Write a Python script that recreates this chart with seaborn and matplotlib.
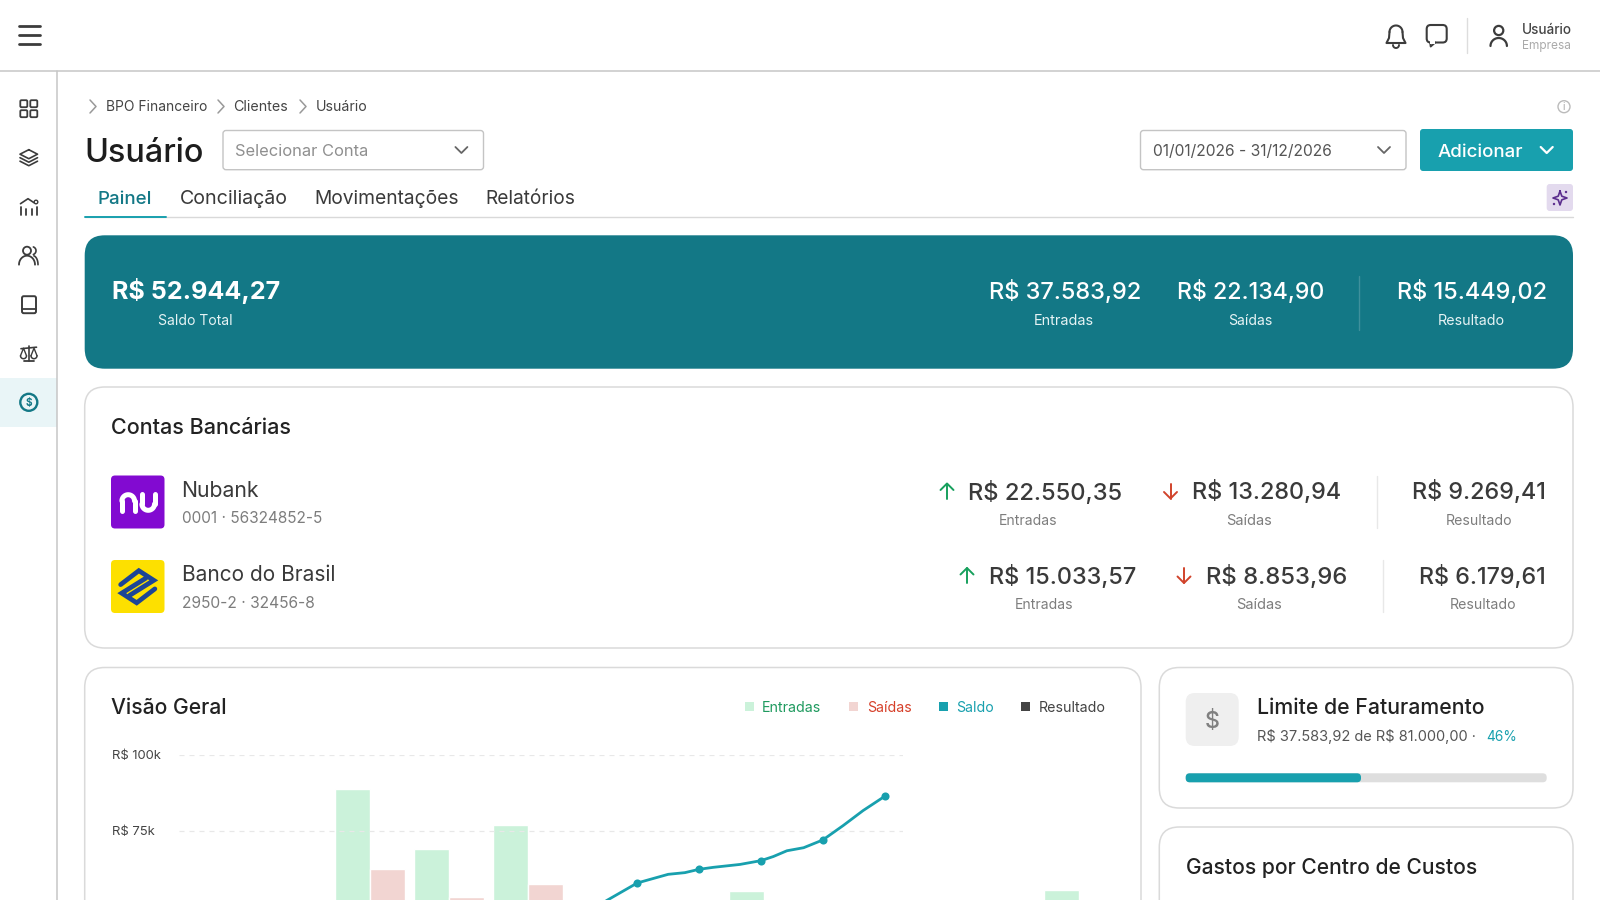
import numpy as np
import pandas as pd
import matplotlib
matplotlib.use('Agg')
import matplotlib.pyplot as plt
from matplotlib.patches import FancyBboxPatch, Circle, Rectangle
import seaborn as sns

# dados do grafico (em milhares de R$)
meses = ['Jan', 'Fev', 'Mar', 'Abr', 'Mai', 'Jun', 'Jul', 'Ago', 'Set', 'Out', 'Nov', 'Dez']
entradas = [30, 38, 88.9, 69.1, 77, 45, 40, 55.3, 48, 44, 42, 55.6]
saidas = [20, 26, 62.5, 53.4, 57.6, 30, 28, 34, 32, 30, 28, 36]
saldo_pos = [0, 1, 2, 3, 4, 5, 6, 6.52, 7, 7.21, 7.5, 7.77, 8, 8.23, 8.66, 9, 9.2, 9.42, 9.69, 10, 10.33, 10.65, 11]
saldo_val = [12, 18, 24, 30, 36, 41, 46, 52.3, 57.9, 59.1, 60.75, 61.3, 62.4, 63.05, 64, 65.25, 66.6, 68.5, 69.5, 72.05, 76.8, 81.7, 86.4]
saldo_mes_pos = [7, 8, 9, 10, 11]
saldo_mes_val = [57.9, 62.4, 65.25, 72.05, 86.4]
y_ticks = [75, 100]
y_labels = ['R$ 75k', 'R$ 100k']

# textos do painel
breadcrumb = ['BPO Financeiro', 'Clientes', 'Usuário']
abas = ['Painel', 'Conciliação', 'Movimentações', 'Relatórios']
banner_valores = ['R$ 37.583,92', 'R$ 22.134,90', 'R$ 15.449,02']
banner_nomes = ['Entradas', 'Saídas', 'Resultado']
nubank_valores = ['R$ 22.550,35', 'R$ 13.280,94', 'R$ 9.269,41']
bb_valores = ['R$ 15.033,57', 'R$ 8.853,96', 'R$ 6.179,61']
legenda = ['Entradas', 'Saídas', 'Saldo', 'Resultado']

TEAL = '#18a0ae'
TEAL_D = '#137886'
VERDE = '#cbf2da'
ROSA = '#f2d5d2'
ESCURO = '#3c3c3c'
CINZA = '#7d7d7d'
BORDA = '#dadada'

sns.set_theme(style='white')
plt.rcParams['font.family'] = ['Inter', 'DejaVu Sans']

fig = plt.figure(figsize=(16, 9), dpi=100, facecolor='white')
ui = fig.add_axes([0, 0, 1, 1], zorder=0)
ui.set_xlim(0, 1600)
ui.set_ylim(900, 0)
ui.axis('off')
renderer = fig.canvas.get_renderer()


def txt(x, y, s, w, color=ESCURO, weight='normal', ha='left', zorder=5):
    # escreve o texto ajustando a fonte para a largura w (px), y = meio das maiusculas
    t = ui.text(x, y, s, fontsize=12, color=color, weight=weight, ha=ha, va='baseline', zorder=zorder, parse_math=False)
    size = 12 * w / t.get_window_extent(renderer).width
    t.set_fontsize(size)
    t.set_y(y + 0.36 * size / 0.72)
    return t


def caixa(x0, y0, x1, y1, r, fc='white', ec='none', lw=1.0, zorder=1):
    ui.add_patch(FancyBboxPatch((x0, y0), x1 - x0, y1 - y0, boxstyle=f'round,pad=0,rounding_size={r}',
                                fc=fc, ec=ec, lw=lw, zorder=zorder))


def linha(xs, ys, color=ESCURO, lw=1.5, zorder=6):
    ui.plot(xs, ys, color=color, lw=lw, solid_capstyle='round', solid_joinstyle='round', zorder=zorder)


def arco(cx, cy, r, a0, a1, color=ESCURO, lw=1.5, ry=None):
    a = np.radians(np.linspace(a0, a1, 40))
    linha(cx + r * np.cos(a), cy - (ry or r) * np.sin(a), color, lw)


def chevron(cx, cy, s=6, color='#666666', lw=1.3):
    linha([cx - s, cx, cx + s], [cy - s / 2, cy + s / 2, cy - s / 2], color, lw)


def seta(cx, cy, cima, color):
    d = -1 if cima else 1
    linha([cx, cx], [cy - d * 7.5, cy + d * 7.5], color, 1.4)
    linha([cx - 6.5, cx, cx + 6.5], [cy + d * 1, cy + d * 7.5, cy + d * 1], color, 1.4)


# barra superior e lateral
linha([0, 1600], [70.5, 70.5], '#c6c6c6', 1.1)
linha([57.3, 57.3], [70.5, 900], '#c6c6c6', 1.1)
ui.add_patch(Rectangle((0, 378), 56.5, 48.5, fc='#e9f5f7', ec='none', zorder=1))
for yy in (26, 35.3, 44.3):
    linha([18.5, 39.5], [yy, yy], ESCURO, 2.0)

# icones laterais
for dx, dy in ((-8.5, -8.5), (1.5, -8.5), (-8.5, 1.5), (1.5, 1.5)):
    caixa(28.8 + dx, 108.7 + dy, 28.8 + dx + 7, 108.7 + dy + 7, 1.2, fc='none', ec=ESCURO, lw=1.3, zorder=6)
cy = 157.7
linha([28.8, 37.5, 28.8, 20, 28.8], [cy - 8, cy - 3.5, cy + 1, cy - 3.5, cy - 8], ESCURO, 1.2)
linha([20, 28.8, 37.5], [cy, cy + 4.5, cy], ESCURO, 1.2)
linha([20, 28.8, 37.5], [cy + 3.5, cy + 8, cy + 3.5], ESCURO, 1.2)
cy = 206.7
for xx, topo in ((21, 0), (25.5, 2), (31.5, 2), (36.5, 0)):
    linha([xx, xx], [cy + topo, cy + 8], ESCURO, 1.3)
linha([20.5, 28, 34], [cy - 3, cy - 8, cy - 4], ESCURO, 1.2)
ui.add_patch(Circle((36, 202), 1.8, fc='white', ec=ESCURO, lw=1.0, zorder=6))
cy = 255.7
ui.add_patch(Circle((27, cy - 5), 4, fc='none', ec=ESCURO, lw=1.3, zorder=6))
arco(27, cy + 9, 8, 0, 180, lw=1.3, ry=9)
arco(32, cy - 5, 4, -70, 70, lw=1.2)
arco(33, cy + 9, 5, 0, 80, lw=1.2, ry=9)
cy = 304.7
caixa(22, cy - 8.5, 36, cy + 8.5, 1.8, fc='none', ec=ESCURO, lw=1.4, zorder=6)
linha([22, 36], [cy + 4.5, cy + 4.5], ESCURO, 1.3)
cy = 353.7
linha([28.8, 28.8], [cy - 8, cy + 7], ESCURO, 1.2)
linha([24, 33.5], [cy + 7.5, cy + 7.5], ESCURO, 1.3)
linha([21, 36.5], [cy - 5, cy - 6.5], ESCURO, 1.2)
for xx in (23.5, 34):
    linha([xx - 3, xx, xx + 3], [cy + 2, cy - 5.5, cy + 2], ESCURO, 1.0)
    arco(xx, cy + 2, 3, 180, 360, lw=1.1)
ui.add_patch(Circle((28.8, 402.3), 8.5, fc='none', ec=TEAL_D, lw=1.7, zorder=6))
txt(28.8, 402.3, '$', 6.5, TEAL_D, 'bold', 'center')

# icones do topo
cx, cy = 1396, 35
arco(cx, cy - 3, 6.5, 0, 180, lw=1.5)
linha([cx - 6.5, cx - 7, cx - 9.5, cx + 9.5, cx + 7, cx + 6.5], [cy - 3, cy + 3, cy + 8, cy + 8, cy + 3, cy - 3], ESCURO, 1.5)
arco(cx, cy + 10, 3, 180, 360, lw=1.4)
cx = 1436.7
caixa(cx - 10, cy - 10, cx + 10, cy + 7.5, 4, fc='none', ec=ESCURO, lw=1.5, zorder=6)
ui.add_patch(Rectangle((cx - 6.5, cy + 5), 5, 3.5, fc='white', ec='none', zorder=7))
linha([cx - 6.5, cx - 6, cx - 1.5], [cy + 7.5, cy + 11.5, cy + 7.5], ESCURO, 1.4)
linha([1467, 1467], [18, 53], '#dddddd', 1.0)
cx = 1498.7
ui.add_patch(Circle((cx, 30.5), 4.6, fc='none', ec=ESCURO, lw=1.6, zorder=6))
arco(cx, 46, 8.2, 0, 180, lw=1.6, ry=8)
txt(1521.7, 29, 'Usuário', 50, '#444444', 'medium')
txt(1521.7, 45, 'Empresa', 49, '#aaaaaa')

# breadcrumb
for xx in (93, 221, 303):
    linha([xx - 3, xx + 3, xx - 3], [100, 106.5, 113], '#999999', 1.1)
txt(106.2, 106.3, breadcrumb[0], 100.5, '#444444')
txt(233.5, 106.3, breadcrumb[1], 54.5, '#444444')
txt(316, 106.3, breadcrumb[2], 51.5, '#444444')
ui.add_patch(Circle((1564, 106.7), 6, fc='none', ec='#bbbbbb', lw=1.0, zorder=6))
txt(1564, 106.7, 'i', 2.5, '#aaaaaa', 'normal', 'center')

# linha do titulo
txt(84, 150, breadcrumb[2], 119.5, '#1d1d1d', 'medium')
caixa(223, 130.5, 483.5, 169.7, 3, ec='#c4c4c4', lw=1.0)
txt(235.4, 150, 'Selecionar Conta', 133, '#8f8f8f')
chevron(461.4, 150)
caixa(1140.5, 130.5, 1406, 169.7, 3, ec='#c4c4c4', lw=1.0)
txt(1153.2, 150, '01/01/2026 - 31/12/2026', 180.5, '#555555')
chevron(1384, 150)
caixa(1420, 129, 1573, 171, 3, fc=TEAL)
txt(1438, 150, 'Adicionar', 85.7, 'white', 'medium')
chevron(1546.7, 150, color='white', lw=1.6)

# abas
for s, x0, w, cor in zip(abas, (97.5, 180, 314, 485), (54.5, 108, 144.5, 90), (TEAL_D, '#3a3a3a', '#3a3a3a', '#3a3a3a')):
    txt(x0, 197.3, s, w, cor, 'medium' if s == 'Painel' else 'normal')
linha([84.7, 1573], [217.2, 217.2], '#d9d9d9', 1.0, 3)
linha([84.7, 166], [217.2, 217.2], TEAL, 1.4, 4)
caixa(1546.7, 184, 1573, 211, 3, fc='#e3daee')
cx, cy = 1560, 198
est = np.array([[0, -7], [1.8, -1.8], [7, 0], [1.8, 1.8], [0, 7], [-1.8, 1.8], [-7, 0], [-1.8, -1.8], [0, -7]])
linha(cx + est[:, 0], cy + est[:, 1], '#5b2d8e', 1.2)
ui.add_patch(Circle((cx + 6, cy - 6), 1.2, fc='#5b2d8e', ec='none', zorder=6))
ui.add_patch(Circle((cx - 6, cy + 6), 1.2, fc='#5b2d8e', ec='none', zorder=6))

# banner
caixa(84.7, 235.3, 1573, 368.7, 20, fc=TEAL_D)
txt(112.2, 290, 'R$ 52.944,27', 169, 'white', 'bold')
txt(195.5, 320, 'Saldo Total', 74, '#e6f3f4', 'normal', 'center')
for val, nome, x0, w, cx, wn in zip(banner_valores, banner_nomes, (989, 1177, 1397), (152.5, 146.5, 150),
                                    (1063.5, 1250, 1471.5), (60, 44, 67)):
    txt(x0, 291, val, w, 'white', 'medium')
    txt(cx, 319.5, nome, wn, '#e6f3f4', 'normal', 'center')
linha([1359, 1359], [275.5, 329.6], '#3f909c', 1.0)

# contas bancarias
caixa(84.7, 387, 1573, 648, 20, ec=BORDA, lw=1.1)
txt(111, 426.5, 'Contas Bancárias', 180.5, '#222222', 'medium')
caixa(111, 475.5, 164.5, 528.5, 4, fc='#820ad1', zorder=3)
# logo nu desenhado como icone
arco(128.2, 501, 6.3, 0, 180, 'white', 3.6)
linha([121.9, 121.9], [501, 511], 'white', 3.6)
linha([134.5, 134.5], [501, 511], 'white', 3.6)
arco(148.2, 504, 6.3, 180, 360, 'white', 3.6)
linha([141.9, 141.9], [494, 504], 'white', 3.6)
linha([154.5, 154.5], [494, 504], 'white', 3.6)
caixa(111, 560, 164.5, 613, 4, fc='#fde000', zorder=3)
bx, by, bs = 111, 560, 53.5
for pts in (((.18, .46), (.52, .2), (.8, .38), (.35, .66)), ((.82, .54), (.48, .8), (.2, .62), (.65, .34))):
    p = np.array(pts)
    ui.plot(bx + bs * p[:, 0], by + bs * p[:, 1], color='#1c4596', lw=3.4, solid_joinstyle='miter', zorder=6)
txt(181.6, 489, 'Nubank', 77.6, '#3a3a3a')
txt(181.6, 517.5, '0001 · 56324852-5', 141, CINZA)
txt(181.6, 573.5, 'Banco do Brasil', 154, '#3a3a3a')
txt(181.6, 602, '2950-2 · 32456-8', 133.7, CINZA)

linhas_contas = [
    (nubank_valores, 491, 519.5, 475.5, 527.5, 947, (968, 1192, 1412), (154.5, 149, 134), 1170.5, 1376.5, (1028, 1249, 1478.6)),
    (bb_valores, 575.5, 604, 560, 612, 967, (989, 1206, 1419), (147, 141, 127), 1184, 1383, (1044, 1259, 1483)),
]
for vals, yv, yn, d0, d1, xa, xs, ws, xb, xd, xn in linhas_contas:
    seta(xa, yv, True, '#17a05d')
    seta(xb, yv, False, '#d1432b')
    for val, x0, w in zip(vals, xs, ws):
        txt(x0, yv, val, w, '#3a3a3a', 'medium')
    for nome, cx, wn in zip(banner_nomes, xn, (58, 46, 66)):
        txt(cx, yn, nome, wn, CINZA, 'normal', 'center')
    linha([xd, xd], [d0, d1], '#e8e8e8', 1.0)

# cartoes de baixo
caixa(84.7, 667.5, 1141, 940, 20, ec=BORDA, lw=1.1)
txt(111, 706, 'Visão Geral', 115.5, '#222222', 'medium')
leg_cores = [('#cbf2da', '#1f9a5f'), ('#f2d5d2', '#d6402a'), (TEAL, TEAL), ('#444444', '#444444')]
for nome, (cq, ct), xq, xt, w in zip(legenda, leg_cores, (745, 849, 939, 1021), (762, 866.7, 956.6, 1038.4), (59.4, 44.3, 37.4, 66.6)):
    ui.add_patch(Rectangle((xq, 702), 9, 9, fc=cq, ec='none', zorder=5))
    txt(xt, 706.7, nome, w, ct)

caixa(1159.3, 667.5, 1573, 808, 20, ec=BORDA, lw=1.1)
caixa(1185.7, 693, 1238.7, 746, 9, fc='#efefef', zorder=3)
txt(1212, 720, '$', 15, '#808080', 'medium', 'center')
txt(1257, 706, 'Limite de Faturamento', 228, '#222222', 'medium')
txt(1257, 736, 'R$ 37.583,92 de R$ 81.000,00 ·', 219.6, '#555555')
txt(1486, 736, '46%', 31, TEAL)
caixa(1185.7, 773.3, 1546.7, 782.3, 4, fc='#dedede', zorder=3)
caixa(1185.7, 773.3, 1361, 782.3, 4, fc=TEAL, zorder=4)
caixa(1159.3, 827, 1573, 940, 20, ec=BORDA, lw=1.1)
txt(1186, 866, 'Gastos por Centro de Custos', 290, '#222222', 'medium')

# grafico: barras e linha usam escalas diferentes, como no original
Y0, PX_K = 755, 76 / 25


def eixo(x0, x1, z):
    base = Y0 + 100 * PX_K
    ax = fig.add_axes([x0 / 1600, (900 - base) / 900, (x1 - x0) / 1600, 100 * PX_K / 900], zorder=z)
    ax.patch.set_alpha(0)
    ax.set_ylim(0, 100)
    sns.despine(ax=ax, left=True, bottom=True)
    return ax


ax_bar = eixo(173, 1118.6, 1)
df = pd.DataFrame({'mes': meses * 2, 'valor': entradas + saidas, 'serie': ['Entradas'] * 12 + ['Saídas'] * 12})
sns.barplot(data=df, x='mes', y='valor', hue='serie', palette=[VERDE, ROSA], width=0.89, gap=0,
            saturation=1, legend=False, ax=ax_bar)
ax_bar.set_xlim(-0.5, 11.5)
ax_bar.set_ylim(0, 100)
ax_bar.set(xlabel='', ylabel='', xticks=[], yticks=[])

ax_line = eixo(178.6, 903, 2)
sns.lineplot(x=saldo_pos, y=saldo_val, color=TEAL, lw=2.0, ax=ax_line)
sns.scatterplot(x=saldo_mes_pos, y=saldo_mes_val, color=TEAL, s=34, linewidth=0, ax=ax_line, zorder=5)
ax_line.set_xlim((178.6 - 204.3) / 61.85, (903 - 204.3) / 61.85)
ax_line.set_ylim(0, 100)
ax_line.set_xticks([])
ax_line.set_yticks(y_ticks)
ax_line.set_yticklabels(y_labels, fontsize=9.4, color='#444444', ha='left', parse_math=False)
ax_line.tick_params(axis='y', length=0, pad=48)
ax_line.grid(axis='y', color='#e8e8e8', ls=(0, (4, 4)), lw=0.9)
ax_line.set_axisbelow(True)

plt.savefig('out.png', dpi=100, facecolor='white')
